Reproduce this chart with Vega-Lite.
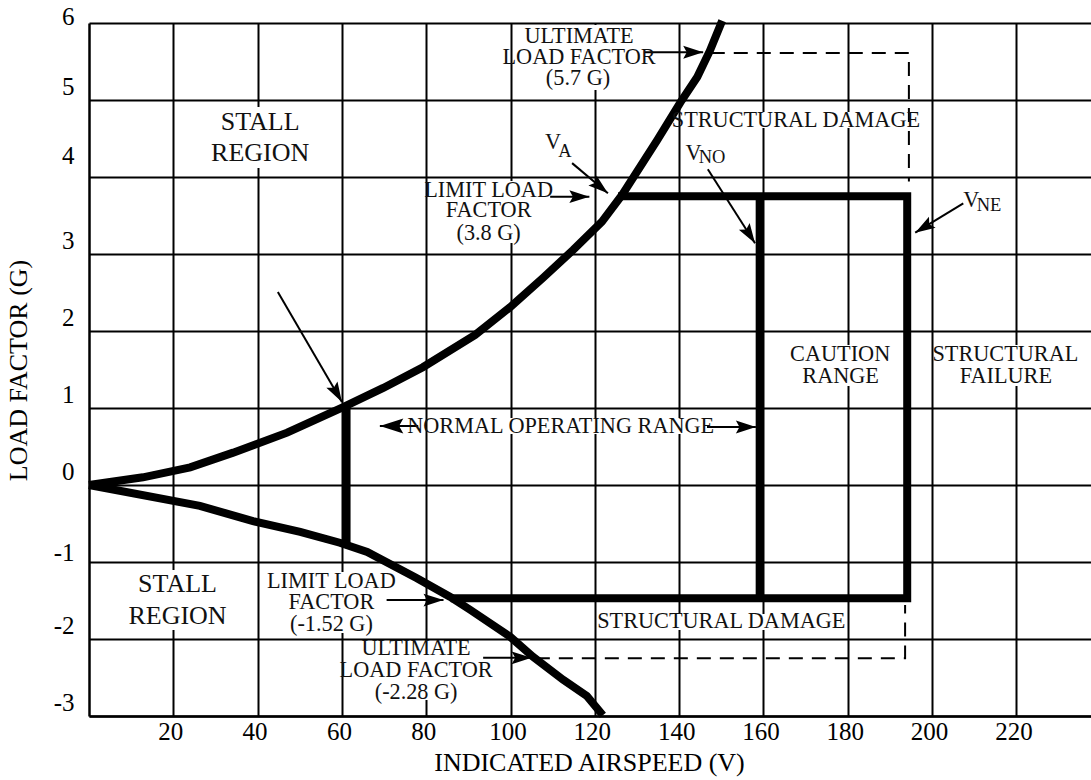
{
  "$schema": "https://vega.github.io/schema/vega-lite/v6.json",
  "width": 1002,
  "height": 693,
  "autosize": {"type": "none"},
  "padding": {"left": 89, "top": 23, "right": 0, "bottom": 64},
  "background": "white",
  "config": {"view": {"stroke": null}, "font": "Liberation Serif"},
  "datasets": {
    "thick": [
      {"seg": "upper", "i": 0, "x": 0, "y": 0},
      {"seg": "upper", "i": 1, "x": 12.8, "y": 0.10},
      {"seg": "upper", "i": 2, "x": 24.0, "y": 0.23},
      {"seg": "upper", "i": 3, "x": 34.2, "y": 0.42},
      {"seg": "upper", "i": 4, "x": 47.0, "y": 0.68},
      {"seg": "upper", "i": 5, "x": 60.3, "y": 1.01},
      {"seg": "upper", "i": 6, "x": 69.8, "y": 1.26},
      {"seg": "upper", "i": 7, "x": 79.2, "y": 1.53},
      {"seg": "upper", "i": 8, "x": 91.6, "y": 1.95},
      {"seg": "upper", "i": 9, "x": 99.9, "y": 2.31},
      {"seg": "upper", "i": 10, "x": 107.7, "y": 2.69},
      {"seg": "upper", "i": 11, "x": 114.8, "y": 3.05},
      {"seg": "upper", "i": 12, "x": 121.7, "y": 3.42},
      {"seg": "upper", "i": 13, "x": 126.5, "y": 3.77},
      {"seg": "upper", "i": 14, "x": 134.8, "y": 4.48},
      {"seg": "upper", "i": 15, "x": 140.3, "y": 4.97},
      {"seg": "upper", "i": 16, "x": 144.3, "y": 5.30},
      {"seg": "upper", "i": 17, "x": 147.3, "y": 5.64},
      {"seg": "upper", "i": 18, "x": 150.2, "y": 6.03},
      {"seg": "lower", "i": 0, "x": 0, "y": 0},
      {"seg": "lower", "i": 1, "x": 26.3, "y": -0.27},
      {"seg": "lower", "i": 2, "x": 38.9, "y": -0.47},
      {"seg": "lower", "i": 3, "x": 50.1, "y": -0.61},
      {"seg": "lower", "i": 4, "x": 59.5, "y": -0.75},
      {"seg": "lower", "i": 5, "x": 66.0, "y": -0.87},
      {"seg": "lower", "i": 6, "x": 77.8, "y": -1.21},
      {"seg": "lower", "i": 7, "x": 85.6, "y": -1.45},
      {"seg": "lower", "i": 8, "x": 90.4, "y": -1.62},
      {"seg": "lower", "i": 9, "x": 99.9, "y": -1.97},
      {"seg": "lower", "i": 10, "x": 105.3, "y": -2.23},
      {"seg": "lower", "i": 11, "x": 112.5, "y": -2.53},
      {"seg": "lower", "i": 12, "x": 118.1, "y": -2.74},
      {"seg": "lower", "i": 13, "x": 121.9, "y": -2.99},
      {"seg": "envelope", "i": 0, "x": 125.5, "y": 3.75},
      {"seg": "envelope", "i": 1, "x": 194.1, "y": 3.75},
      {"seg": "envelope", "i": 2, "x": 194.1, "y": -1.47},
      {"seg": "envelope", "i": 3, "x": 85.8, "y": -1.47},
      {"seg": "vno", "i": 0, "x": 159.1, "y": 3.75},
      {"seg": "vno", "i": 1, "x": 159.1, "y": -1.47},
      {"seg": "onegee", "i": 0, "x": 61.1, "y": 1.01},
      {"seg": "onegee", "i": 1, "x": 61.1, "y": -0.78}
    ],
    "dashed": [
      {"seg": "top", "i": 0, "x": 147.5, "y": 5.61},
      {"seg": "top", "i": 1, "x": 194.5, "y": 5.61},
      {"seg": "top", "i": 2, "x": 194.5, "y": 3.94},
      {"seg": "bottom", "i": 0, "x": 106.0, "y": -2.25},
      {"seg": "bottom", "i": 1, "x": 193.6, "y": -2.25},
      {"seg": "bottom", "i": 2, "x": 193.6, "y": -1.56}
    ],
    "arrows": [
      {"name": "ult57", "dir": "E", "x": 131.9, "y": 5.62, "x2": 145.7, "y2": 5.62},
      {"name": "va", "dir": "VA", "x": 114.6, "y": 4.18, "x2": 123.1, "y2": 3.79},
      {"name": "lim38", "dir": "E", "x": 109.4, "y": 3.744, "x2": 118.7, "y2": 3.744},
      {"name": "vno", "dir": "VNO", "x": 146.8, "y": 4.10, "x2": 158.0, "y2": 3.14},
      {"name": "vne", "dir": "VNE", "x": 207.4, "y": 3.658, "x2": 196.0, "y2": 3.277},
      {"name": "onegee", "dir": "G1", "x": 44.8, "y": 2.506, "x2": 60.0, "y2": 1.078},
      {"name": "norleft", "dir": "W", "x": 78.1, "y": 0.766, "x2": 69.0, "y2": 0.766},
      {"name": "norright", "dir": "E", "x": 146.6, "y": 0.753, "x2": 158.2, "y2": 0.753},
      {"name": "lim152", "dir": "E", "x": 70.6, "y": -1.494, "x2": 84.1, "y2": -1.494},
      {"name": "ult228", "dir": "E", "x": 93.5, "y": -2.245, "x2": 105.0, "y2": -2.245}
    ],
    "boxes": [
      {"block": "stall top", "x": 28.7, "x2": 52.9, "y": 4.909, "y2": 4.117},
      {"block": "stall bottom", "x": 8.5, "x2": 33.9, "y": -1.104, "y2": -1.883},
      {"block": "ultimate 5.7", "x": 100.8, "x2": 131.9, "y": 5.974, "y2": 5.13},
      {"block": "limit 3.8", "x": 81.4, "x2": 108.2, "y": 3.948, "y2": 3.143},
      {"block": "structural damage top", "x": 142.6, "x2": 192.9, "y": 4.844, "y2": 4.636},
      {"block": "caution", "x": 168.0, "x2": 188.8, "y": 1.818, "y2": 1.286},
      {"block": "structural failure", "x": 202.8, "x2": 232.3, "y": 1.818, "y2": 1.286},
      {"block": "normal operating", "x": 80.4, "x2": 143.3, "y": 0.87, "y2": 0.662},
      {"block": "limit -1.52", "x": 43.7, "x2": 71.4, "y": -1.13, "y2": -1.922},
      {"block": "ultimate -2.28", "x": 61.7, "x2": 93.7, "y": -2.026, "y2": -2.792},
      {"block": "structural damage bottom", "x": 124.6, "x2": 174.9, "y": -1.675, "y2": -1.883}
    ],
    "labels": [
      {"t": "STALL", "role": "big", "x": 40.6, "y": 4.714},
      {"t": "REGION", "role": "big", "x": 40.6, "y": 4.312},
      {"t": "STALL", "role": "big", "x": 21.0, "y": -1.286},
      {"t": "REGION", "role": "big", "x": 21.0, "y": -1.701},
      {"t": "ULTIMATE", "role": "main", "x": 116.25, "y": 5.83},
      {"t": "LOAD FACTOR", "role": "main", "x": 116.25, "y": 5.558},
      {"t": "(5.7 G)", "role": "main", "x": 116.0, "y": 5.286},
      {"t": "LIMIT LOAD", "role": "main", "x": 94.8, "y": 3.831},
      {"t": "FACTOR", "role": "main", "x": 94.8, "y": 3.565},
      {"t": "(3.8 G)", "role": "main", "x": 94.8, "y": 3.273},
      {"t": "V", "role": "main", "x": 110.1, "y": 4.461},
      {"t": "A", "role": "sub", "x": 112.9, "y": 4.338},
      {"t": "V", "role": "main", "x": 143.4, "y": 4.318},
      {"t": "NO", "role": "sub", "x": 147.8, "y": 4.264},
      {"t": "V", "role": "main", "x": 209.3, "y": 3.701},
      {"t": "NE", "role": "sub", "x": 213.5, "y": 3.636},
      {"t": "STRUCTURAL DAMAGE", "role": "main", "x": 167.7, "y": 4.74},
      {"t": "STRUCTURAL DAMAGE", "role": "main", "x": 150.0, "y": -1.766},
      {"t": "NORMAL OPERATING RANGE", "role": "main", "x": 111.9, "y": 0.766},
      {"t": "CAUTION", "role": "main", "x": 178.2, "y": 1.695},
      {"t": "RANGE", "role": "main", "x": 178.3, "y": 1.422},
      {"t": "STRUCTURAL", "role": "main", "x": 217.4, "y": 1.695},
      {"t": "FAILURE", "role": "main", "x": 217.5, "y": 1.422},
      {"t": "LIMIT LOAD", "role": "main", "x": 57.5, "y": -1.247},
      {"t": "FACTOR", "role": "main", "x": 57.5, "y": -1.519},
      {"t": "(-1.52 G)", "role": "main", "x": 57.5, "y": -1.805},
      {"t": "ULTIMATE", "role": "main", "x": 77.6, "y": -2.117},
      {"t": "LOAD FACTOR", "role": "main", "x": 77.6, "y": -2.403},
      {"t": "(-2.28 G)", "role": "main", "x": 77.6, "y": -2.682}
    ]
  },
  "layer": [
    {
      "data": {"name": "boxes"},
      "mark": {"type": "rect", "color": "white", "opacity": 1},
      "encoding": {
        "x": {"field": "x", "type": "quantitative", "scale": {"domain": [0, 237.7], "nice": false, "zero": false},
          "axis": {"values": [20, 40, 60, 80, 100, 120, 140, 160, 180, 200, 220], "grid": true, "gridColor": "black", "gridWidth": 2, "gridOpacity": 1, "domain": true, "domainColor": "black", "domainWidth": 2.5, "ticks": false, "labelFont": "Liberation Serif", "labelFontSize": 25, "labelColor": "black", "labelPadding": 3, "labelOffset": -3, "labelFlush": false, "labelOverlap": false, "labelBaseline": "top",
            "title": "INDICATED AIRSPEED (V)", "titleFont": "Liberation Serif", "titleFontSize": 26, "titleFontWeight": "normal", "titleColor": "black", "titleX": 500, "titleY": 46, "titleBaseline": "middle", "titleAlign": "center"}},
        "y": {"field": "y", "type": "quantitative", "scale": {"domain": [-3, 6], "nice": false, "zero": false},
          "axis": {"values": [-3, -2, -1, 0, 1, 2, 3, 4, 5, 6], "labelExpr": "'' + datum.value", "grid": true, "gridColor": "black", "gridWidth": 2, "gridOpacity": 1, "domain": true, "domainColor": "black", "domainWidth": 2.5, "ticks": false, "labelFont": "Liberation Serif", "labelFontSize": 25, "labelColor": "black", "labelPadding": 15, "labelFlush": false, "labelOverlap": false,
            "labelOffset": {"condition": [{"test": "datum.value == 6", "value": -7}, {"test": "datum.value == 4", "value": -22}, {"test": "datum.value == -1", "value": -10}], "value": -14},
            "title": "LOAD FACTOR (G)", "titleFont": "Liberation Serif", "titleFontSize": 26, "titleFontWeight": "normal", "titleColor": "black", "titleX": -71, "titleY": 347, "titleAngle": -90, "titleBaseline": "middle", "titleAlign": "center"}},
        "x2": {"field": "x2"},
        "y2": {"field": "y2"}
      }
    },
    {
      "data": {"name": "dashed"},
      "mark": {"type": "line", "color": "black", "strokeWidth": 2, "strokeDash": [14, 9]},
      "encoding": {
        "x": {"field": "x", "type": "quantitative", "scale": {"domain": [0, 237.7], "nice": false, "zero": false}},
        "y": {"field": "y", "type": "quantitative", "scale": {"domain": [-3, 6], "nice": false, "zero": false}},
        "detail": {"field": "seg", "type": "nominal"},
        "order": {"field": "i", "type": "quantitative"}
      }
    },
    {
      "data": {"name": "thick"},
      "mark": {"type": "line", "color": "black", "strokeWidth": 8, "strokeJoin": "miter", "strokeCap": "butt"},
      "encoding": {
        "x": {"field": "x", "type": "quantitative", "scale": {"domain": [0, 237.7], "nice": false, "zero": false}},
        "y": {"field": "y", "type": "quantitative", "scale": {"domain": [-3, 6], "nice": false, "zero": false}},
        "detail": {"field": "seg", "type": "nominal"},
        "order": {"field": "i", "type": "quantitative"}
      }
    },
    {
      "data": {"name": "arrows"},
      "mark": {"type": "rule", "color": "black", "strokeWidth": 2},
      "encoding": {
        "x": {"field": "x", "type": "quantitative", "scale": {"domain": [0, 237.7], "nice": false, "zero": false}},
        "y": {"field": "y", "type": "quantitative", "scale": {"domain": [-3, 6], "nice": false, "zero": false}},
        "x2": {"field": "x2"},
        "y2": {"field": "y2"}
      }
    },
    {
      "data": {"name": "arrows"},
      "transform": [{"filter": "datum.dir == 'E'"}],
      "mark": {"type": "point", "shape": "M0,0L-1,-0.32L-0.82,0L-1,0.32Z", "size": 1600, "angle": 0, "filled": true, "color": "black", "opacity": 1, "strokeWidth": 0},
      "encoding": {
        "x": {"field": "x2", "type": "quantitative", "scale": {"domain": [0, 237.7], "nice": false, "zero": false}},
        "y": {"field": "y2", "type": "quantitative", "scale": {"domain": [-3, 6], "nice": false, "zero": false}}
      }
    },
    {
      "data": {"name": "arrows"},
      "transform": [{"filter": "datum.dir == 'W'"}],
      "mark": {"type": "point", "shape": "M0,0L-1,-0.32L-0.82,0L-1,0.32Z", "size": 2200, "angle": 180, "filled": true, "color": "black", "opacity": 1, "strokeWidth": 0},
      "encoding": {
        "x": {"field": "x2", "type": "quantitative", "scale": {"domain": [0, 237.7], "nice": false, "zero": false}},
        "y": {"field": "y2", "type": "quantitative", "scale": {"domain": [-3, 6], "nice": false, "zero": false}}
      }
    },
    {
      "data": {"name": "arrows"},
      "transform": [{"filter": "datum.dir == 'VA'"}],
      "mark": {"type": "point", "shape": "M0,0L-1,-0.32L-0.82,0L-1,0.32Z", "size": 1600, "angle": 39.5, "filled": true, "color": "black", "opacity": 1, "strokeWidth": 0},
      "encoding": {
        "x": {"field": "x2", "type": "quantitative", "scale": {"domain": [0, 237.7], "nice": false, "zero": false}},
        "y": {"field": "y2", "type": "quantitative", "scale": {"domain": [-3, 6], "nice": false, "zero": false}}
      }
    },
    {
      "data": {"name": "arrows"},
      "transform": [{"filter": "datum.dir == 'VNO'"}],
      "mark": {"type": "point", "shape": "M0,0L-1,-0.32L-0.82,0L-1,0.32Z", "size": 1600, "angle": 57.4, "filled": true, "color": "black", "opacity": 1, "strokeWidth": 0},
      "encoding": {
        "x": {"field": "x2", "type": "quantitative", "scale": {"domain": [0, 237.7], "nice": false, "zero": false}},
        "y": {"field": "y2", "type": "quantitative", "scale": {"domain": [-3, 6], "nice": false, "zero": false}}
      }
    },
    {
      "data": {"name": "arrows"},
      "transform": [{"filter": "datum.dir == 'VNE'"}],
      "mark": {"type": "point", "shape": "M0,0L-1,-0.32L-0.82,0L-1,0.32Z", "size": 1600, "angle": 148.7, "filled": true, "color": "black", "opacity": 1, "strokeWidth": 0},
      "encoding": {
        "x": {"field": "x2", "type": "quantitative", "scale": {"domain": [0, 237.7], "nice": false, "zero": false}},
        "y": {"field": "y2", "type": "quantitative", "scale": {"domain": [-3, 6], "nice": false, "zero": false}}
      }
    },
    {
      "data": {"name": "arrows"},
      "transform": [{"filter": "datum.dir == 'G1'"}],
      "mark": {"type": "point", "shape": "M0,0L-1,-0.32L-0.82,0L-1,0.32Z", "size": 1600, "angle": 60, "filled": true, "color": "black", "opacity": 1, "strokeWidth": 0},
      "encoding": {
        "x": {"field": "x2", "type": "quantitative", "scale": {"domain": [0, 237.7], "nice": false, "zero": false}},
        "y": {"field": "y2", "type": "quantitative", "scale": {"domain": [-3, 6], "nice": false, "zero": false}}
      }
    },
    {
      "data": {"name": "labels"},
      "mark": {"type": "text", "fill": "#111111", "font": "Liberation Serif", "baseline": "middle", "align": "center"},
      "encoding": {
        "x": {"field": "x", "type": "quantitative", "scale": {"domain": [0, 237.7], "nice": false, "zero": false}},
        "y": {"field": "y", "type": "quantitative", "scale": {"domain": [-3, 6], "nice": false, "zero": false}},
        "text": {"field": "t", "type": "nominal"},
        "size": {"field": "role", "type": "ordinal", "scale": {"domain": ["big", "main", "sub"], "range": [26, 18.5, 13.5]}, "legend": null}
      }
    }
  ]
}
